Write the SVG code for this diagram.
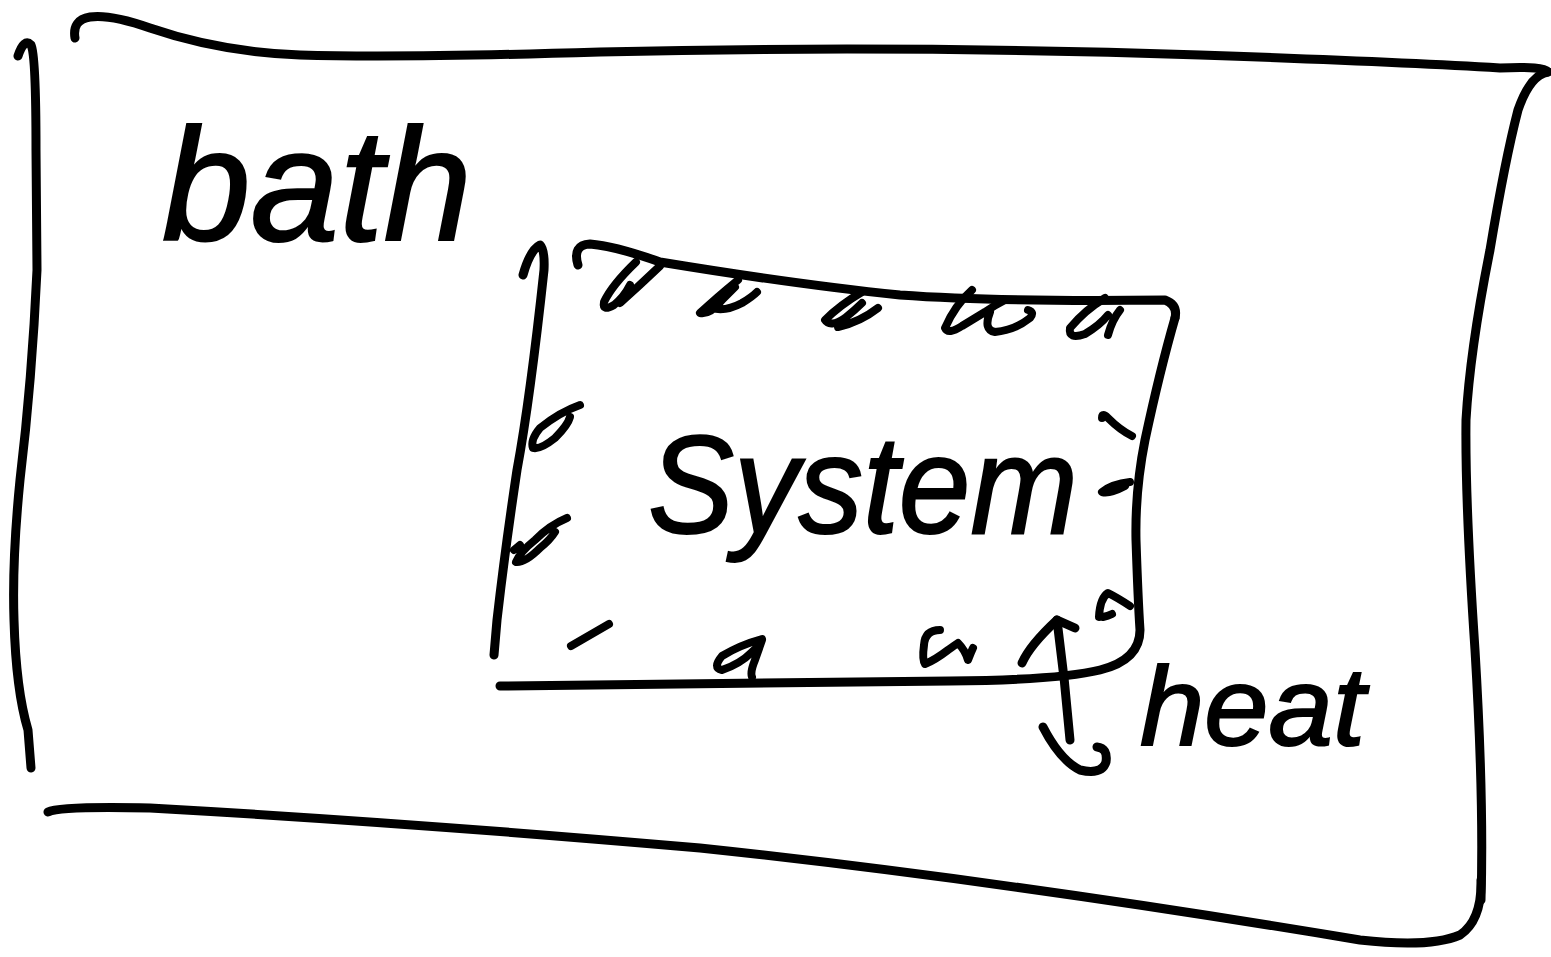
<svg xmlns="http://www.w3.org/2000/svg" width="1551" height="957" viewBox="0 0 1551 957">
<style>
.ink{fill:none;stroke:#000;stroke-width:9;stroke-linecap:round;stroke-linejoin:round}
.hatch{fill:none;stroke:#000;stroke-width:8;stroke-linecap:round;stroke-linejoin:round}
.lbl{font-family:"Liberation Sans","DejaVu Sans",sans-serif;font-style:italic;fill:#000;stroke:#000;stroke-width:2}
</style>
<rect width="1551" height="957" fill="#fff"/>
<g id="bath">
<path class="ink" d="M18,56 Q24,38 31,45 Q36,55 36,150 L37,270 Q32,380 20,480 Q12,560 14,620 Q16,690 28,730 L31,768"/>
<path class="ink" d="M75,38 Q72,20 90,17 Q110,14 150,28 Q220,52 300,55 Q400,58 600,52 Q900,45 1200,55 Q1400,62 1500,68 Q1545,66 1548,72"/>
<path class="ink" d="M1548,72 Q1530,75 1518,110 Q1505,160 1490,250 Q1470,350 1466,420 Q1465,500 1475,650 Q1484,800 1481,900"/>
<path class="ink" d="M48,812 Q60,806 150,808 Q400,822 700,848 Q1000,880 1360,940 Q1430,948 1460,935 Q1482,920 1481,880"/>
<text class="lbl" x="162" y="240" font-size="160" textLength="310" lengthAdjust="spacingAndGlyphs">bath</text>
</g>
<g id="system">
<path class="ink" d="M523,275 Q530,250 540,245 Q545,250 544,270 Q530,400 517,470 Q505,550 497,620 L494,655"/>
<path class="ink" d="M578,265 Q572,245 590,244 Q615,246 660,262 Q800,285 900,295 Q1000,302 1165,300 Q1178,305 1175,318"/>
<path class="ink" d="M1175,318 Q1160,370 1145,440 Q1135,490 1136,540 Q1138,600 1140,630 Q1140,660 1100,670 Q1060,680 950,681 Q700,684 500,686"/>
<path class="hatch" d="M636,262 Q612,285 604,302 Q602,312 614,305 Q624,297 630,285 Q626,298 620,303 Q640,285 660,266"/>
<path class="hatch" d="M738,280 Q716,298 700,313 Q710,315 722,300 L735,287 M712,308 Q725,312 742,303 Q752,297 757,292"/>
<path class="hatch" d="M862,292 Q840,305 825,320 Q830,328 845,318 Q855,310 862,303 M838,327 Q860,322 878,308"/>
<path class="hatch" d="M972,290 Q955,305 945,328 Q948,335 962,326 L985,312 Q995,305 1005,300 M990,312 Q983,330 995,332 Q1015,330 1030,318 Q1035,312 1028,310"/>
<path class="hatch" d="M1105,298 Q1085,310 1070,328 Q1068,340 1085,334 Q1100,325 1108,315 M1120,310 Q1112,320 1108,335"/>
<path class="hatch" d="M580,405 Q560,412 540,428 Q530,440 533,448 Q540,450 555,438 Q568,425 570,417"/>
<path class="hatch" d="M567,518 Q550,525 535,540 Q520,552 516,562 Q525,563 540,548 Q550,540 555,532 M514,550 L520,545"/>
<path class="hatch" d="M609,624 Q590,635 571,646"/>
<path class="hatch" d="M762,639 Q740,645 722,656 Q712,668 722,670 Q740,664 752,652 Q760,645 762,640 L755,660 Q750,672 752,677"/>
<path class="hatch" d="M940,630 Q925,630 924,645 Q922,660 925,664 Q935,660 948,650 Q955,645 958,643 Q965,650 968,660 Q972,650 973,648"/>
<path class="hatch" d="M1102,418 Q1102,412 1108,418 Q1120,430 1132,436"/>
<path class="hatch" d="M1130,482 Q1112,484 1102,492 Q1110,494 1125,486"/>
<path class="hatch" d="M1099,617 Q1100,598 1108,593 Q1118,598 1130,606 M1103,617 Q1108,616 1112,614"/>
<text class="lbl" x="648" y="533" font-size="140" textLength="430" lengthAdjust="spacingAndGlyphs">System</text>
</g>
<g id="heat">
<text class="lbl" x="1140" y="745" font-size="112" textLength="225" lengthAdjust="spacingAndGlyphs">heat</text>
</g>
<g id="connectors">
<path class="ink" d="M1057,620 Q1065,680 1070,740"/>
<path class="ink" d="M1022,663 Q1030,645 1057,620 L1075,628"/>
<path class="ink" d="M1043,727 Q1060,760 1080,770 Q1102,775 1106,762 Q1108,748 1097,747"/>
</g>
</svg>
